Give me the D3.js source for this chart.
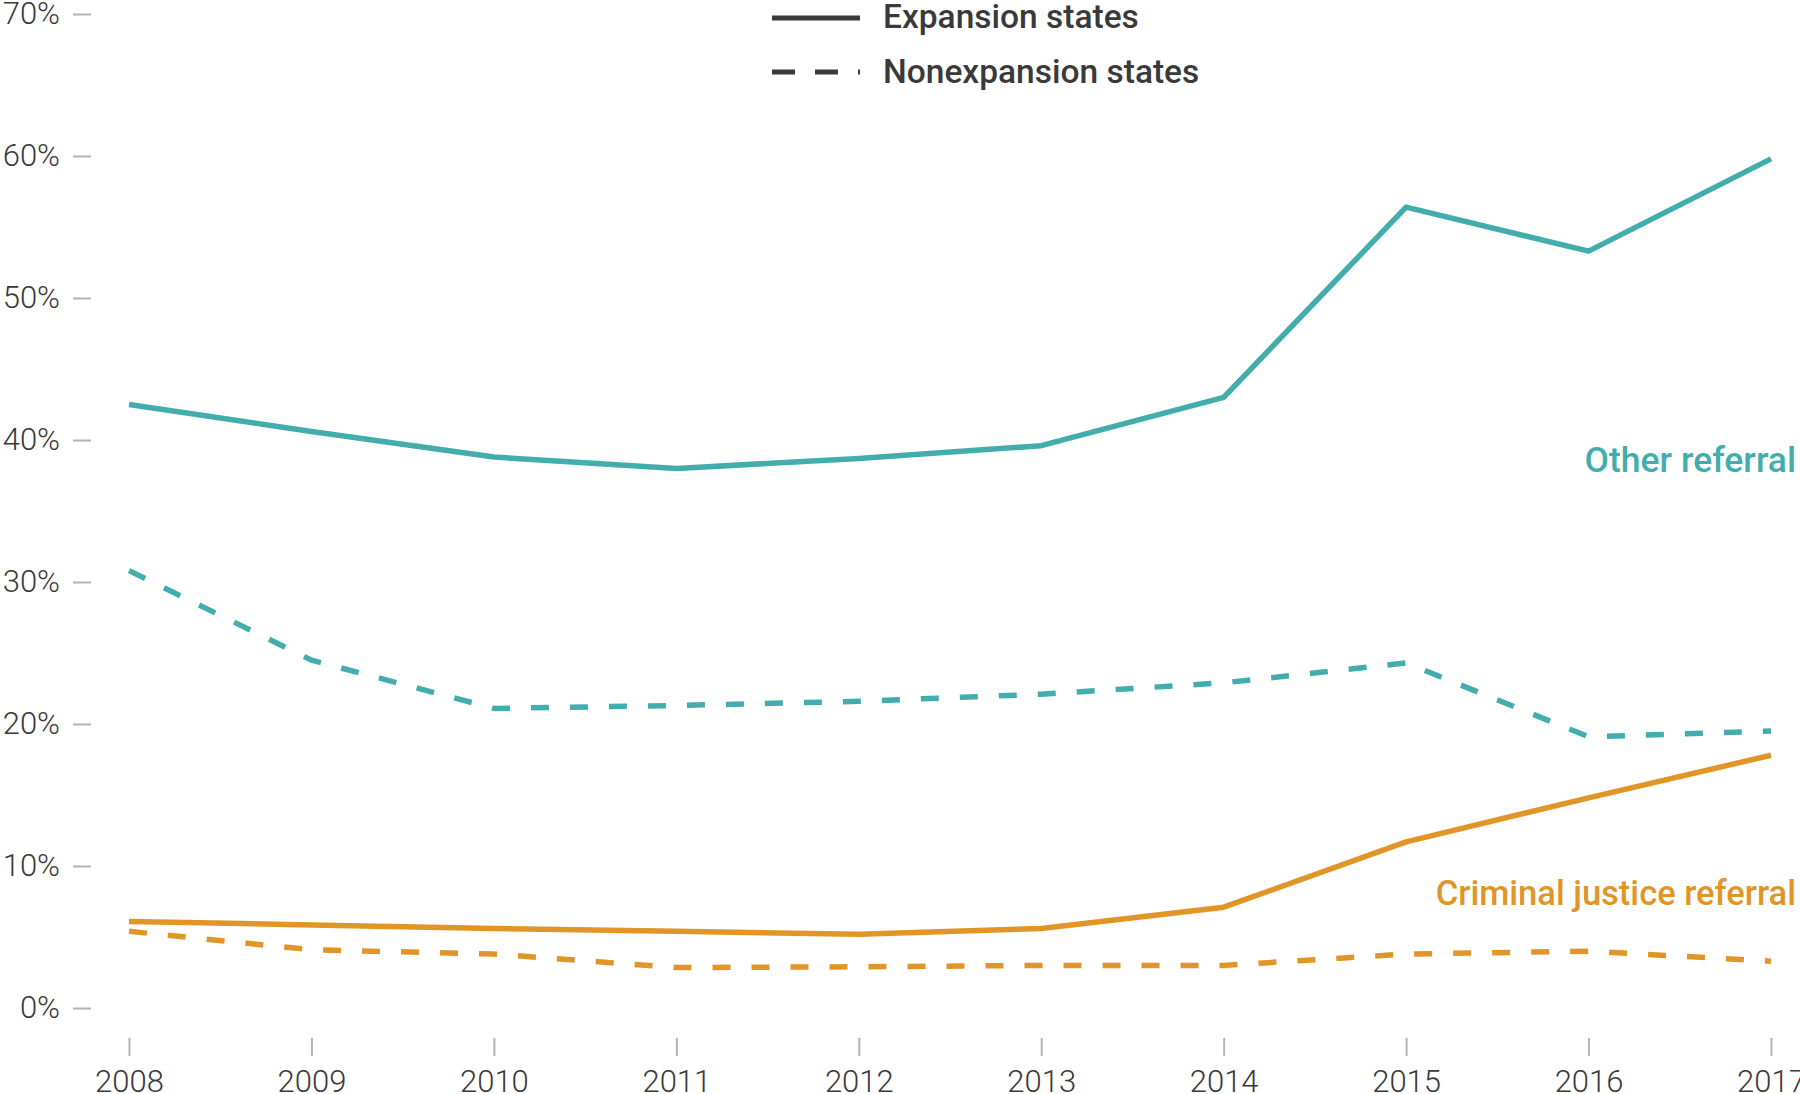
<!DOCTYPE html>
<html>
<head>
<meta charset="utf-8">
<script src="https://cdn.jsdelivr.net/npm/d3@7"></script>
<style>
  html, body { margin: 0; padding: 0; background: #fff; }
  svg { display: block; }
  text { font-family: Roboto, "Noto Sans", sans-serif; }
</style>
</head>
<body>
<svg id="chart" width="1800" height="1094"></svg>
<script>
// ---- data ----
const years = [2008, 2009, 2010, 2011, 2012, 2013, 2014, 2015, 2016, 2017];
const otherExpansion    = [42.5, 40.6, 38.8, 38.0, 38.7, 39.6, 43.0, 56.4, 53.3, 59.8];
const otherNonexpansion = [30.8, 24.5, 21.1, 21.3, 21.6, 22.1, 22.9, 24.3, 19.1, 19.5];
const crimExpansion     = [6.1, 5.85, 5.6, 5.4, 5.2, 5.6, 7.1, 11.7, 14.8, 17.8];
const crimNonexpansion  = [5.4, 4.1, 3.8, 2.85, 2.9, 3.0, 3.0, 3.8, 4.0, 3.3];
const yTicks = [0, 10, 20, 30, 40, 50, 60, 70];
const legendLabels = ["Expansion states", "Nonexpansion states"];
const seriesLabels = ["Other referral", "Criminal justice referral"];

const teal = "#43adae";
const orange = "#e29527";
const ink = "#3a3a3a";

const svg = d3.select("#chart");

const x = d3.scaleLinear().domain([2008, 2017]).range([129, 1771]);
const y = d3.scaleLinear().domain([0, 70]).range([1008, 14]);

// y axis
const yAxis = d3.axisLeft(y)
  .tickValues(yTicks)
  .tickFormat(d => d + "%")
  .tickSize(18)
  .tickPadding(13);
const gy = svg.append("g").attr("transform", "translate(91,0)").call(yAxis);
gy.select(".domain").remove();
gy.selectAll(".tick line").attr("stroke", "#b3b3b3").attr("stroke-width", 2);
gy.selectAll(".tick text")
  .attr("fill", ink)
  .style("font-size", "31px")
  .style("font-weight", 300)
  .attr("dy", "0.32em");

// x axis
const xAxis = d3.axisBottom(x)
  .tickValues(years)
  .tickFormat(d3.format("d"))
  .tickSize(18)
  .tickPadding(14);
const gx = svg.append("g").attr("transform", "translate(0,1038)").call(xAxis);
gx.select(".domain").remove();
gx.selectAll(".tick line").attr("stroke", "#b3b3b3").attr("stroke-width", 2);
gx.selectAll(".tick text")
  .attr("fill", ink)
  .style("font-size", "31px")
  .style("font-weight", 300)
  .attr("dy", "0.71em");

// lines
const line = d3.line().x((d, i) => x(years[i])).y(d => y(d));
const series = [
  { v: otherExpansion, c: teal, dash: null },
  { v: otherNonexpansion, c: teal, dash: "18,21" },
  { v: crimExpansion, c: orange, dash: null },
  { v: crimNonexpansion, c: orange, dash: "18,21" }
];
svg.append("g").selectAll("path").data(series).join("path")
  .attr("d", d => line(d.v))
  .attr("fill", "none")
  .attr("stroke", d => d.c)
  .attr("stroke-width", 5.5)
  .attr("stroke-linejoin", "round")
  .attr("stroke-dasharray", d => d.dash);

// series labels
svg.append("text").text(seriesLabels[0])
  .attr("x", 1796).attr("y", 472).attr("text-anchor", "end")
  .attr("fill", teal).style("font-size", "35.5px").style("font-weight", 500);
svg.append("text").text(seriesLabels[1])
  .attr("x", 1796).attr("y", 905).attr("text-anchor", "end")
  .attr("fill", orange).style("font-size", "34.5px").style("font-weight", 500);

// legend
const lg = svg.append("g");
lg.append("line").attr("x1", 772).attr("x2", 860).attr("y1", 18).attr("y2", 18)
  .attr("stroke", ink).attr("stroke-width", 5);
lg.append("line").attr("x1", 772).attr("x2", 860).attr("y1", 72).attr("y2", 72)
  .attr("stroke", ink).attr("stroke-width", 5).attr("stroke-dasharray", "23,20");
lg.append("text").text(legendLabels[0]).attr("x", 883).attr("y", 28)
  .attr("fill", ink).style("font-size", "33.5px").style("font-weight", 500);
lg.append("text").text(legendLabels[1]).attr("x", 883).attr("y", 83)
  .attr("fill", ink).style("font-size", "33.5px").style("font-weight", 500);
</script>
</body>
</html>
